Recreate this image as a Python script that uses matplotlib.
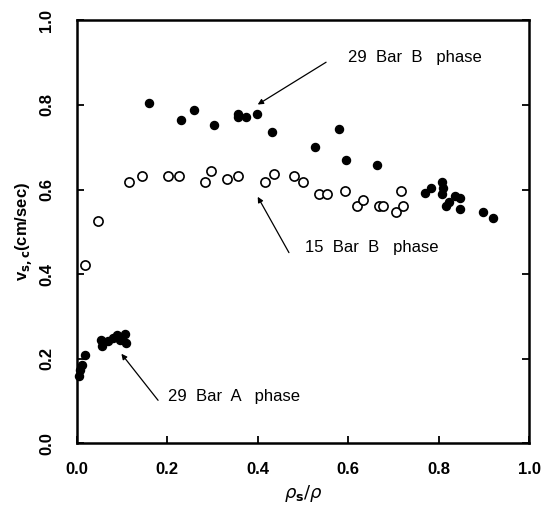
import matplotlib
matplotlib.use("Agg")
import matplotlib.pyplot as plt

# -- 29 bar, B phase (filled)
b29_x = [0.161, 0.231, 0.260, 0.303, 0.356, 0.357, 0.374, 0.398, 0.431, 0.526,
         0.580, 0.595, 0.664, 0.770, 0.783, 0.807, 0.810, 0.808, 0.815, 0.823,
         0.836, 0.846, 0.847, 0.897, 0.920]
b29_y = [0.805, 0.764, 0.789, 0.753, 0.779, 0.771, 0.771, 0.779, 0.736, 0.700,
         0.744, 0.671, 0.658, 0.593, 0.604, 0.618, 0.604, 0.590, 0.561, 0.571,
         0.584, 0.579, 0.555, 0.548, 0.533]

# -- 15 bar, B phase (open)
b15_x = [0.018, 0.047, 0.115, 0.145, 0.202, 0.226, 0.283, 0.296, 0.332, 0.357,
         0.415, 0.436, 0.481, 0.501, 0.536, 0.552, 0.592, 0.619, 0.632, 0.667,
         0.677, 0.706, 0.717, 0.720]
b15_y = [0.422, 0.526, 0.617, 0.631, 0.632, 0.632, 0.617, 0.645, 0.624, 0.632,
         0.617, 0.638, 0.632, 0.617, 0.589, 0.589, 0.597, 0.561, 0.576, 0.562,
         0.562, 0.547, 0.597, 0.561]

# -- 29 bar, A phase (filled)
a29_x = [0.005, 0.008, 0.012, 0.019, 0.053, 0.056, 0.070, 0.081, 0.090, 0.096,
         0.107, 0.109]
a29_y = [0.160, 0.173, 0.185, 0.210, 0.245, 0.231, 0.243, 0.249, 0.257, 0.245,
         0.258, 0.238]

ticks = [0.0, 0.2, 0.4, 0.6, 0.8, 1.0]
tick_labels = ["0.0", "0.2", "0.4", "0.6", "0.8", "1.0"]

plt.rcParams["font.family"] = ["Liberation Sans", "DejaVu Sans"]

fig = plt.figure(figsize=(5.43, 5.08), dpi=100)
ax = fig.add_axes([0.141, 0.127, 0.834, 0.833])

ax.plot(b29_x, b29_y, "o", color="black", ms=5.8, mec="black", clip_on=False)
ax.plot(a29_x, a29_y, "o", color="black", ms=5.8, mec="black", clip_on=False)
ax.plot(b15_x, b15_y, "o", mfc="white", mec="black", ms=6.6, mew=1.2,
        clip_on=False)

# -- annotations
arw = dict(arrowstyle="-|>", color="black", lw=0.9, mutation_scale=8,
           shrinkA=0, shrinkB=0)
ax.annotate("", xy=(0.400, 0.801), xytext=(0.551, 0.901), arrowprops=arw)
ax.annotate("", xy=(0.400, 0.583), xytext=(0.469, 0.451), arrowprops=arw)
ax.annotate("", xy=(0.099, 0.212), xytext=(0.180, 0.102), arrowprops=arw)
ax.text(0.600, 0.912, "29  Bar  B   phase", fontsize=12, va="center")
ax.text(0.505, 0.463, "15  Bar  B   phase", fontsize=12, va="center")
ax.text(0.202, 0.112, "29  Bar  A   phase", fontsize=12, va="center")

ax.set_xlim(0, 1)
ax.set_ylim(0, 1)
ax.set_xticks(ticks)
ax.set_yticks(ticks)
ax.set_xticklabels(tick_labels, fontsize=12, fontweight="bold")
ax.set_yticklabels(tick_labels, fontsize=12, fontweight="bold", rotation=90,
                   va="center")
ax.tick_params(direction="in", length=5, width=1.3, right=True, top=False)
ax.tick_params(axis="x", pad=13)
ax.tick_params(axis="y", pad=16)
for sp in ax.spines.values():
    sp.set_linewidth(1.8)

ax.set_xlabel(r"$\rho_{\mathbf{s}}/\rho$", fontsize=13, labelpad=5)
ax.set_ylabel(r"v$_{\mathbf{s,c}}$(cm/sec)", fontsize=12, fontweight="bold",
              labelpad=4)

fig.savefig("out.png", dpi=100)
